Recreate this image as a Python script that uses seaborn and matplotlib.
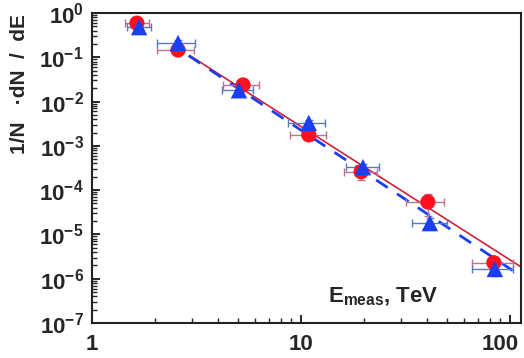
import matplotlib
matplotlib.use('Agg')
import matplotlib.pyplot as plt
import matplotlib.transforms as mtransforms
import seaborn as sns
import numpy as np
import pandas as pd
from matplotlib.ticker import FuncFormatter, LogLocator, NullFormatter

sns.set_style('ticks')
plt.rcParams['font.family'] = ['Liberation Sans', 'DejaVu Sans']
plt.rcParams['font.weight'] = 'bold'
plt.rcParams['mathtext.fontset'] = 'custom'
plt.rcParams['mathtext.rm'] = 'Liberation Sans:bold'
plt.rcParams['mathtext.bf'] = 'Liberation Sans:bold'
plt.rcParams['mathtext.it'] = 'Liberation Sans:bold'

# red circles
red_e = [1.64, 2.58, 5.28, 10.9, 19.4, 40.5, 83.8]
red_y = [0.59, 0.146, 0.0237, 0.00177, 2.6e-4, 5.4e-5, 2.3e-6]
red_elo = [1.44, 2.05, 4.24, 8.9, 16.0, 31.8, 65.6]
red_ehi = [1.87, 3.07, 6.3, 13.2, 23.0, 48.5, 103.0]
red_yerr = [0.1, 0.02, 0.004, 0.0004, 0.9e-4, 2.8e-5, 0.8e-6]

# blue triangles
blue_e = [1.68, 2.58, 5.05, 10.9, 19.8, 41.4, 84.7]
blue_y = [0.48, 0.21, 0.018, 0.0033, 3.3e-4, 1.8e-5, 1.66e-6]
blue_elo = [1.47, 2.05, 4.2, 8.7, 16.5, 34.0, 66.0]
blue_ehi = [1.92, 3.1, 5.9, 13.0, 23.5, 50.0, 103.0]
blue_yerr = [0.08, 0.03, 0.003, 0.0005, 0.6e-4, 0.5e-5, 0.5e-6]

# power-law fits (end points)
red_fit_x = [2.95, 113.0]
red_fit_y = [0.108, 1.85e-6]
blue_fit_x = [2.9, 105.6]
blue_fit_y = [0.109, 1.42e-6]

fig = plt.figure(figsize=(5.24, 3.58), dpi=100)
ax = fig.add_axes([0.1756, 0.0978, 0.8187, 0.8659])

sns.lineplot(x=red_fit_x, y=red_fit_y, ax=ax, color='#d0203a', lw=1.2, zorder=2)
sns.lineplot(x=blue_fit_x, y=blue_fit_y, ax=ax, color='#1a3ff0', lw=2.0,
             dashes=False, zorder=2).lines[-1].set_dashes([5, 4])

red_xerr = [np.array(red_e) - np.array(red_elo), np.array(red_ehi) - np.array(red_e)]
blue_xerr = [np.array(blue_e) - np.array(blue_elo), np.array(blue_ehi) - np.array(blue_e)]
ax.errorbar(red_e, red_y, xerr=red_xerr, yerr=red_yerr, fmt='none',
            ecolor='#c07090', elinewidth=1.0, capsize=3, capthick=1.0, zorder=3)
ax.errorbar(blue_e, blue_y, xerr=blue_xerr, yerr=blue_yerr, fmt='none',
            ecolor='#5a78c0', elinewidth=1.0, capsize=3, capthick=1.0, zorder=3)

df_red = pd.DataFrame({'E': red_e, 'y': red_y})
df_blue = pd.DataFrame({'E': blue_e, 'y': blue_y})
sns.scatterplot(data=df_red, x='E', y='y', ax=ax, marker='o', s=120,
                color='#ff1020', edgecolor='none', zorder=4)
sns.scatterplot(data=df_blue, x='E', y='y', ax=ax, marker='^', s=140,
                color='#1a3ff0', edgecolor='none', zorder=5)

ax.set_xscale('log')
ax.set_yscale('log')
ax.set_xlim(1, 113)
ax.set_ylim(1e-7, 1)

ax.yaxis.set_major_locator(LogLocator(base=10, numticks=10))
ax.yaxis.set_minor_locator(LogLocator(base=10, subs=np.arange(2, 10), numticks=20))
ax.xaxis.set_major_locator(LogLocator(base=10, numticks=10))
ax.xaxis.set_minor_locator(LogLocator(base=10, subs=np.arange(2, 10), numticks=20))
ax.yaxis.set_major_formatter(FuncFormatter(lambda v, p: r'$\mathbf{10^{%d}}$' % round(np.log10(v))))
ax.xaxis.set_major_formatter(FuncFormatter(lambda v, p: '%d' % round(v)))
ax.xaxis.set_minor_formatter(NullFormatter())
ax.yaxis.set_minor_formatter(NullFormatter())

ax.tick_params(which='major', direction='in', length=6, width=1.4, labelsize=16)
ax.tick_params(axis='y', which='major', pad=6)
ax.tick_params(axis='x', which='major', pad=8)
ax.tick_params(which='minor', direction='in', length=3.5, width=1.0)
ax.tick_params(axis='y', which='both', left=True, right=False)
ax.tick_params(axis='x', which='both', bottom=True, top=False)
for sp in ax.spines.values():
    sp.set_linewidth(1.5)
    sp.set_color('#222222')

ax.set_xlabel('')
ax.set_ylabel('1/N   ·dN  /  dE', fontsize=15, fontweight='bold')
ax.yaxis.set_label_coords(-0.147, 0.77)
ax.text(0.68, 0.085, r'E$_{\mathbf{meas}}$, TeV', transform=ax.transAxes,
        fontsize=16, fontweight='bold', ha='center', va='center')

# draw once so tick labels exist, then nudge the "100" label inside the figure
fig.canvas.draw()
for tick in ax.xaxis.get_major_ticks():
    if abs(tick.get_loc() - 100) < 1e-6:
        lbl = tick.label1
        lbl.set_transform(lbl.get_transform() +
                          mtransforms.ScaledTranslation(-0.10, 0, fig.dpi_scale_trans))

fig.savefig('out.png', dpi=100)
